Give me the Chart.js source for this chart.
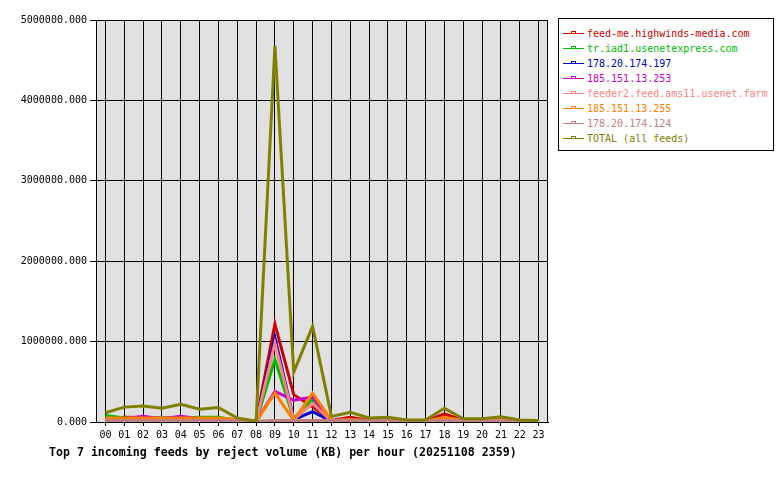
<!DOCTYPE html>
<html>
<head>
<meta charset="utf-8">
<script src="https://cdn.jsdelivr.net/npm/chart.js@4/dist/chart.umd.min.js"></script>
<style>
html,body{margin:0;padding:0;background:#fff;}
#wrap{position:relative;width:780px;height:480px;}
canvas{position:absolute;left:0;top:0;}
#legend{position:absolute;left:558px;top:18px;width:214px;height:131px;border:1px solid #000;background:#fff;box-sizing:content-box;}
.li{position:absolute;left:4px;width:205px;height:15px;font:10px "DejaVu Sans Mono",monospace;line-height:15px;white-space:nowrap;}
.li svg{position:absolute;left:0;top:0;}
.li .tx{position:absolute;left:24px;top:0;}
#title{position:absolute;left:49px;top:445px;font:bold 11.6px "DejaVu Sans Mono",monospace;white-space:nowrap;}
</style>
</head>
<body>
<div id="wrap">
<canvas id="c" width="780" height="480"></canvas>
<div id="legend"></div>
<div id="title">Top 7 incoming feeds by reject volume (KB) per hour (20251108 2359)</div>
</div>
<script>
const hours = ['00','01','02','03','04','05','06','07','08','09','10','11','12','13','14','15','16','17','18','19','20','21','22','23'];
const yTicks = [0, 1000000, 2000000, 3000000, 4000000, 5000000];

const feedNames = ['feed-me.highwinds-media.com','tr.iad1.usenetexpress.com','178.20.174.197','185.151.13.253','feeder2.feed.ams11.usenet.farm','185.151.13.255','178.20.174.124','TOTAL (all feeds)'];
const feedColors = ['#cc0000','#00bb00','#0000cc','#cc00cc','#ff8080','#ff8000','#c08080','#808000'];

const feedMe    = [30000,60000,55000,50000,55000,50000,50000,20000,5000,1220000,340000,190000,20000,60000,20000,30000,10000,10000,100000,20000,20000,30000,10000,10000];
const trIad1    = [80000,50000,50000,50000,50000,60000,60000,20000,5000,780000,40000,290000,10000,20000,10000,10000,5000,5000,50000,10000,10000,10000,5000,5000];
const ip197     = [10000,10000,10000,10000,10000,10000,10000,5000,2000,1050000,30000,130000,10000,10000,5000,5000,2000,2000,20000,5000,5000,5000,2000,2000];
const ip253     = [40000,40000,70000,40000,70000,40000,40000,20000,5000,380000,270000,310000,20000,30000,10000,10000,5000,5000,40000,10000,10000,10000,5000,5000];
const feeder2   = [20000,20000,20000,20000,20000,20000,20000,10000,3000,980000,30000,230000,10000,20000,10000,10000,5000,5000,40000,10000,10000,10000,5000,5000];
const ip255     = [50000,50000,50000,50000,50000,50000,50000,30000,5000,360000,20000,360000,20000,30000,20000,20000,10000,10000,60000,20000,20000,30000,10000,10000];
const ip124     = [20000,20000,20000,20000,20000,20000,20000,15000,10000,20000,20000,20000,20000,20000,20000,20000,15000,15000,20000,15000,15000,15000,10000,10000];
const total     = [115000,185000,200000,170000,220000,160000,180000,50000,10000,4680000,620000,1190000,70000,120000,50000,60000,25000,25000,170000,40000,40000,65000,25000,20000];

const series = [feedMe, trIad1, ip197, ip253, feeder2, ip255, ip124, total];

// legend
const lg = document.getElementById('legend');
feedNames.forEach((n,i)=>{
  const c = feedColors[i];
  const d = document.createElement('div');
  d.className='li';
  d.style.top = (7 + i*15) + 'px';
  d.style.color = c;
  d.innerHTML = '<svg width="22" height="15" shape-rendering="crispEdges">' +
    '<rect x="0" y="7" width="21" height="1" fill="'+c+'"/>' +
    '<rect x="8" y="5" width="5" height="2" fill="'+c+'"/>' +
    '<rect x="9" y="6" width="3" height="1" fill="#fff"/>' +
    '</svg><span class="tx"></span>';
  d.querySelector('.tx').textContent = n;
  lg.appendChild(d);
});

const bgPlugin = {
  id:'bg',
  beforeDraw(chart){
    const {ctx, chartArea:a} = chart;
    ctx.save();
    ctx.fillStyle='#e0e0e0';
    ctx.fillRect(a.left,a.top,a.right-a.left,a.bottom-a.top);
    ctx.restore();
  },
  afterDatasetsDraw(chart){
    const {ctx, chartArea:a} = chart;
    ctx.save();
    ctx.strokeStyle='#000';
    ctx.lineWidth=1;
    ctx.strokeRect(Math.round(a.left)+0.5,Math.round(a.top)+0.5,Math.round(a.right-a.left)-1,Math.round(a.bottom-a.top));
    ctx.restore();
  }
};

new Chart(document.getElementById('c'), {
  type:'line',
  data:{
    labels: hours,
    datasets: series.map((s,i)=>({
      label: feedNames[i],
      data: s,
      borderColor: feedColors[i],
      backgroundColor: feedColors[i],
      borderWidth: 3,
      pointRadius: 0,
      tension: 0,
      fill: false,
      order: series.length - i
    }))
  },
  options:{
    responsive:false,
    animation:false,
    devicePixelRatio:1,
    layout:{padding:{left:0,right:232,top:20,bottom:0}},
    plugins:{legend:{display:false},title:{display:false},tooltip:{enabled:false}},
    scales:{
      x:{
        type:'category',
        offset:true,
        grid:{display:true,offset:false,color:'#000',lineWidth:1,tickLength:4,drawTicks:true},
        border:{display:true,color:'#000'},
        ticks:{color:'#000',font:{family:'DejaVu Sans Mono',size:10},padding:3,maxRotation:0,autoSkip:false},
        afterFit(s){ s.height = 58; }
      },
      y:{
        min:0,max:5000000,
        afterBuildTicks(s){ s.ticks = yTicks.map(v=>({value:v})); },
        grid:{color:'#000',lineWidth:1,tickLength:6},
        border:{display:true,color:'#000'},
        ticks:{color:'#000',font:{family:'DejaVu Sans Mono',size:10},padding:3,callback:v=>v.toFixed(3)},
        afterFit(s){ s.width = 96; }
      }
    }
  },
  plugins:[bgPlugin]
});
</script>
</body>
</html>
